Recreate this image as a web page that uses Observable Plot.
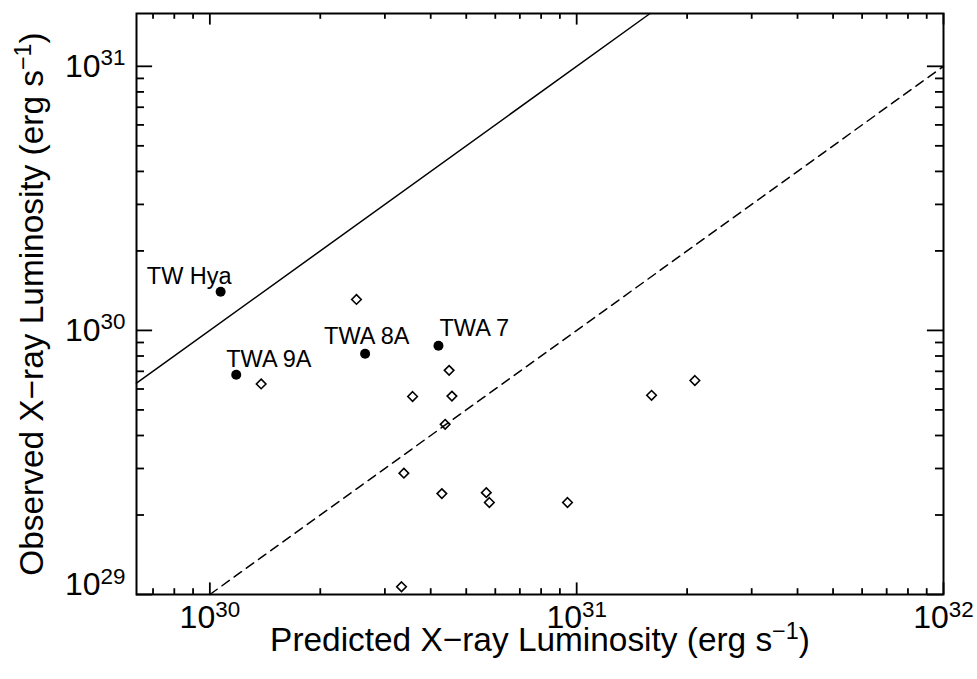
<!DOCTYPE html>
<html><head><meta charset="utf-8">
<script src="https://cdn.jsdelivr.net/npm/d3@7"></script>
<script src="https://cdn.jsdelivr.net/npm/@observablehq/plot@0.6"></script>
<style>html,body{margin:0;padding:0;background:#fff} svg{display:block}</style>
</head><body><div id="chart"></div>
<script>
// ---- data ----
const xDomain = [6.31e29, 1e32];
const yDomain = [1e29, 1.585e31];
const xMajorTicks = [1e30, 1e31, 1e32];
const xMinorTicks = [7e29, 8e29, 9e29, 2e30, 3e30, 4e30, 5e30, 6e30, 7e30, 8e30, 9e30, 2e31, 3e31, 4e31, 5e31, 6e31, 7e31, 8e31, 9e31];
const yMajorTicks = [1e29, 1e30, 1e31];
const yMinorTicks = [2e29, 3e29, 4e29, 5e29, 6e29, 7e29, 8e29, 9e29, 2e30, 3e30, 4e30, 5e30, 6e30, 7e30, 8e30, 9e30];
const xTickLabels = ["10^{30}", "10^{31}", "10^{32}"];
const yTickLabels = ["10^{29}", "10^{30}", "10^{31}"];
const xTitle = "Predicted X\u2212ray Luminosity (erg s^{\u22121})";
const yTitle = "Observed X\u2212ray Luminosity (erg s^{\u22121})";

const namedStars = ["TW Hya", "TWA 9A", "TWA 8A", "TWA 7"];
const namedPredicted = [1.07e30, 1.18e30, 2.65e30, 4.20e30];
const namedObserved  = [1.40e30, 6.79e29, 8.16e29, 8.75e29];

const otherPredicted = [2.51e30, 1.38e30, 4.49e30, 3.57e30, 4.57e30, 4.38e30, 3.38e30, 4.29e30, 5.67e30, 5.78e30, 9.44e30, 1.60e31, 2.10e31, 3.33e30];
const otherObserved  = [1.31e30, 6.27e29, 7.06e29, 5.62e29, 5.64e29, 4.41e29, 2.88e29, 2.41e29, 2.43e29, 2.23e29, 2.23e29, 5.68e29, 6.46e29, 1.07e29];

// observed / predicted ratios drawn as reference lines
const ratioSolid = 1;
const ratioDashed = 0.1;

// ---- layout ----
const W = 977, H = 679;
const mL = 136, mR = 34, mT = 13, mB = 85;
const plotW = W - mL - mR, plotH = H - mT - mB;
const font = "'Liberation Sans', Arial, Helvetica, sans-serif";
const tickFont = 32, titleFont = 33.4, lab = 23.5;
const xMajLen = 11.6, xMinLen = 5.8, yMajLen = 16.1, yMinLen = 8;

const named = namedStars.map((name, i) => ({name, x: namedPredicted[i], y: namedObserved[i]}));
const others = otherPredicted.map((x, i) => ({x, y: otherObserved[i]}));
function ratioLine(r) {
  const x0 = Math.max(xDomain[0], yDomain[0] / r);
  const x1 = Math.min(xDomain[1], yDomain[1] / r);
  return [{x: x0, y: r * x0}, {x: x1, y: r * x1}];
}
const pick = (n) => named.filter(d => d.name === n);
const tickStroke = {stroke: "black", strokeWidth: 1.8};

const chart = Plot.plot({
  width: W, height: H,
  marginLeft: mL, marginRight: mR, marginTop: mT, marginBottom: mB,
  style: {fontFamily: font, background: "white", color: "black"},
  x: {type: "log", domain: xDomain, axis: null},
  y: {type: "log", domain: yDomain, axis: null},
  marks: [
    Plot.line(ratioLine(ratioSolid), {x: "x", y: "y", stroke: "black", strokeWidth: 1.5}),
    Plot.line(ratioLine(ratioDashed), {x: "x", y: "y", stroke: "black", strokeWidth: 1.5, strokeDasharray: "9,6"}),
    Plot.dot(others, {x: "x", y: "y", symbol: "diamond2", r: 4.3, stroke: "black", strokeWidth: 1.6, fill: "none"}),
    Plot.dot(named, {x: "x", y: "y", r: 5, fill: "black", stroke: "none"}),
    Plot.text(pick("TW Hya"), {x: "x", y: "y", text: "name", fontSize: lab, fontFamily: font, textAnchor: "end", lineAnchor: "bottom", dx: 11, dy: -8}),
    Plot.text(pick("TWA 9A"), {x: "x", y: "y", text: "name", fontSize: lab, fontFamily: font, textAnchor: "start", lineAnchor: "bottom", dx: -10, dy: -8}),
    Plot.text(pick("TWA 8A"), {x: "x", y: "y", text: "name", fontSize: lab, fontFamily: font, textAnchor: "start", lineAnchor: "bottom", dx: -41, dy: -10}),
    Plot.text(pick("TWA 7"), {x: "x", y: "y", text: "name", fontSize: lab, fontFamily: font, textAnchor: "start", lineAnchor: "bottom", dx: 1, dy: -10}),
    // inward ticks on all four sides
    Plot.ruleX(xMajorTicks, {x: d => d, insetTop: plotH - xMajLen, ...tickStroke}),
    Plot.ruleX(xMinorTicks, {x: d => d, insetTop: plotH - xMinLen, ...tickStroke}),
    Plot.ruleX(xMajorTicks, {x: d => d, insetBottom: plotH - xMajLen, ...tickStroke}),
    Plot.ruleX(xMinorTicks, {x: d => d, insetBottom: plotH - xMinLen, ...tickStroke}),
    Plot.ruleY(yMajorTicks, {y: d => d, insetRight: plotW - yMajLen, ...tickStroke}),
    Plot.ruleY(yMinorTicks, {y: d => d, insetRight: plotW - yMinLen, ...tickStroke}),
    Plot.ruleY(yMajorTicks, {y: d => d, insetLeft: plotW - yMajLen, ...tickStroke}),
    Plot.ruleY(yMinorTicks, {y: d => d, insetLeft: plotW - yMinLen, ...tickStroke}),
    Plot.frame({stroke: "black", strokeWidth: 2}),
    // tick labels
    Plot.text(xMajorTicks, {x: d => d, text: (d, i) => xTickLabels[i], frameAnchor: "bottom", textAnchor: "middle", lineAnchor: "top", dy: 11, fontSize: tickFont, fontFamily: font}),
    Plot.text(yMajorTicks.slice(1), {y: d => d, text: (d, i) => yTickLabels[i + 1], frameAnchor: "left", textAnchor: "end", lineAnchor: "middle", dx: -11, fontSize: tickFont, fontFamily: font}),
    Plot.text(yMajorTicks.slice(0, 1), {y: d => d, text: (d, i) => yTickLabels[i], frameAnchor: "left", textAnchor: "end", lineAnchor: "middle", dx: -11, dy: -10, fontSize: tickFont, fontFamily: font}),
    // axis titles
    Plot.text([xTitle], {text: d => d, frameAnchor: "bottom", textAnchor: "middle", lineAnchor: "bottom", dy: 56, fontSize: titleFont, fontFamily: font}),
    Plot.text([yTitle], {text: d => d, frameAnchor: "left", textAnchor: "middle", lineAnchor: "bottom", rotate: -90, dx: -94, fontSize: titleFont, fontFamily: font})
  ]
});

// render "a^{b}c" as superscripts
const NS = "http://www.w3.org/2000/svg";
chart.querySelectorAll("text").forEach(t => {
  const m = t.textContent.match(/^(.*)\^\{(.*?)\}(.*)$/);
  if (!m) return;
  t.textContent = "";
  const a = document.createElementNS(NS, "tspan"); a.textContent = m[1]; t.appendChild(a);
  const b = document.createElementNS(NS, "tspan"); b.textContent = m[2];
  b.setAttribute("font-size", "70%"); b.setAttribute("dy", "-0.5em"); t.appendChild(b);
  if (m[3]) {
    const c = document.createElementNS(NS, "tspan"); c.textContent = m[3];
    c.setAttribute("dy", "0.35em"); t.appendChild(c);
  }
});
document.getElementById("chart").appendChild(chart);
</script>
</body></html>
